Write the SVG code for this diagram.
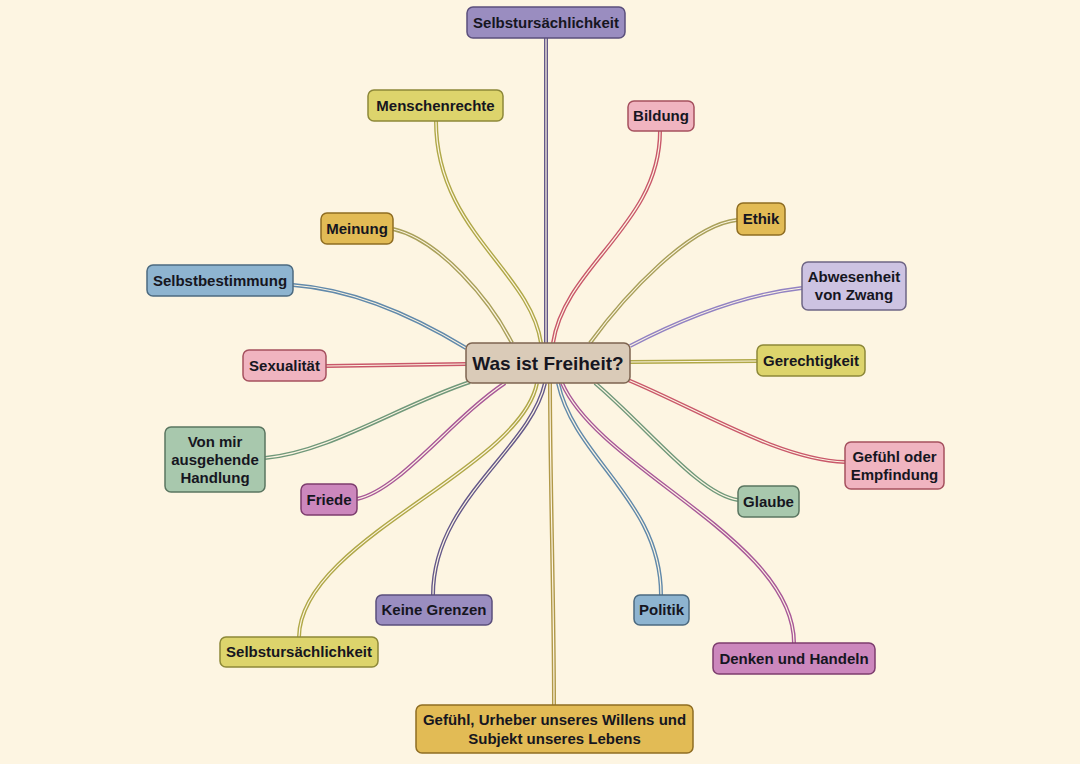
<svg xmlns="http://www.w3.org/2000/svg" width="1080" height="764" viewBox="0 0 1080 764">
<style>
text{font-family:"Liberation Sans",Arial,sans-serif;font-weight:bold;font-size:15px;fill:#16161f;text-anchor:middle}
.b{stroke-width:1.5}
.c path.o{fill:none;stroke-width:4}
.c path.i{fill:none;stroke:#fdf5e2;stroke-width:1.2}
.pu{fill:#9a8dc0;stroke:#5b4f7c}
.ye{fill:#ddd46c;stroke:#8d8838}
.pk{fill:#f0b4c0;stroke:#a5505e}
.or{fill:#e2bb55;stroke:#8f6d22}
.bl{fill:#8eb4d0;stroke:#4c6a80}
.la{fill:#cdc3e2;stroke:#6e6585}
.gr{fill:#a8c8ad;stroke:#5a7560}
.mg{fill:#cc87bd;stroke:#7d3d6e}
.ce{fill:#dacbb8;stroke:#7e6450}
</style>
<rect width="1080" height="764" fill="#fdf5e2"/>
<g class="c" id="connectors">
<path class="o" stroke="#645889" d="M546,38 L546,343"/><path class="i" d="M546,38 L546,343"/>
<path class="o" stroke="#b0a848" d="M436,121 C436,230 530,270 541,343"/><path class="i" d="M436,121 C436,230 530,270 541,343"/>
<path class="o" stroke="#c9586a" d="M660,131 C660,225 565,265 553,343"/><path class="i" d="M660,131 C660,225 565,265 553,343"/>
<path class="o" stroke="#a9a05a" d="M393,229 C440,240 490,300 512,343"/><path class="i" d="M393,229 C440,240 490,300 512,343"/>
<path class="o" stroke="#a9a05a" d="M737,220 C690,225 625,295 590,343"/><path class="i" d="M737,220 C690,225 625,295 590,343"/>
<path class="o" stroke="#6189aa" d="M293,285 C360,290 420,320 466,348"/><path class="i" d="M293,285 C360,290 420,320 466,348"/>
<path class="o" stroke="#9282c2" d="M802,288 C740,295 680,320 630,346"/><path class="i" d="M802,288 C740,295 680,320 630,346"/>
<path class="o" stroke="#c9586a" d="M326,366 L466,364"/><path class="i" d="M326,366 L466,364"/>
<path class="o" stroke="#b0a848" d="M757,361 L630,362"/><path class="i" d="M757,361 L630,362"/>
<path class="o" stroke="#70987a" d="M265,458 C330,452 400,405 470,382"/><path class="i" d="M265,458 C330,452 400,405 470,382"/>
<path class="o" stroke="#c9586a" d="M845,462 C780,460 700,410 628,380"/><path class="i" d="M845,462 C780,460 700,410 628,380"/>
<path class="o" stroke="#a85898" d="M357,499 C400,490 450,420 505,383"/><path class="i" d="M357,499 C400,490 450,420 505,383"/>
<path class="o" stroke="#70987a" d="M738,500 C700,495 650,430 595,383"/><path class="i" d="M738,500 C700,495 650,430 595,383"/>
<path class="o" stroke="#645889" d="M433,595 C433,500 530,450 545,383"/><path class="i" d="M433,595 C433,500 530,450 545,383"/>
<path class="o" stroke="#6189aa" d="M661,595 C661,500 575,460 558,383"/><path class="i" d="M661,595 C661,500 575,460 558,383"/>
<path class="o" stroke="#b0a848" d="M299,637 C300,540 520,470 537,383"/><path class="i" d="M299,637 C300,540 520,470 537,383"/>
<path class="o" stroke="#a85898" d="M794,643 C794,540 600,470 562,383"/><path class="i" d="M794,643 C794,540 600,470 562,383"/>
<path class="o" stroke="#b09848" d="M554,705 C554,600 550,480 550,383"/><path class="i" d="M554,705 C554,600 550,480 550,383"/>
</g>
<g id="center"><rect class="b ce" x="466" y="343" width="164" height="40" rx="6"/><text x="548" y="370" style="font-size:19px">Was ist Freiheit?</text></g>
<g id="n1"><rect class="b pu" x="467" y="7" width="158" height="31" rx="6"/><text x="546" y="28">Selbstursächlichkeit</text></g>
<g id="n2"><rect class="b ye" x="368" y="90" width="135" height="31" rx="6"/><text x="435.5" y="111">Menschenrechte</text></g>
<g id="n3"><rect class="b pk" x="628" y="101" width="66" height="30" rx="6"/><text x="661" y="121">Bildung</text></g>
<g id="n4"><rect class="b or" x="321" y="213" width="72" height="31" rx="6"/><text x="357" y="234">Meinung</text></g>
<g id="n5"><rect class="b or" x="737" y="203" width="48" height="32" rx="6"/><text x="761" y="224">Ethik</text></g>
<g id="n6"><rect class="b bl" x="147" y="265" width="146" height="31" rx="6"/><text x="220" y="286">Selbstbestimmung</text></g>
<g id="n7"><rect class="b la" x="802" y="262" width="104" height="48" rx="6"/><text x="854" y="282">Abwesenheit</text><text x="854" y="300">von Zwang</text></g>
<g id="n8"><rect class="b pk" x="243" y="350" width="83" height="31" rx="6"/><text x="284.5" y="371">Sexualität</text></g>
<g id="n9"><rect class="b ye" x="757" y="345" width="108" height="31" rx="6"/><text x="811" y="366">Gerechtigkeit</text></g>
<g id="n10"><rect class="b gr" x="165" y="427" width="100" height="65" rx="6"/><text x="215" y="447">Von mir</text><text x="215" y="465">ausgehende</text><text x="215" y="483">Handlung</text></g>
<g id="n11"><rect class="b pk" x="845" y="442" width="99" height="47" rx="6"/><text x="894.5" y="462">Gefühl oder</text><text x="894.5" y="480">Empfindung</text></g>
<g id="n12"><rect class="b mg" x="301" y="484" width="56" height="31" rx="6"/><text x="329" y="505">Friede</text></g>
<g id="n13"><rect class="b gr" x="738" y="486" width="61" height="31" rx="6"/><text x="768.5" y="507">Glaube</text></g>
<g id="n14"><rect class="b pu" x="376" y="595" width="116" height="30" rx="6"/><text x="434" y="615">Keine Grenzen</text></g>
<g id="n15"><rect class="b bl" x="634" y="595" width="55" height="30" rx="6"/><text x="661.5" y="615">Politik</text></g>
<g id="n16"><rect class="b ye" x="220" y="637" width="158" height="30" rx="6"/><text x="299" y="657">Selbstursächlichkeit</text></g>
<g id="n17"><rect class="b mg" x="713" y="643" width="162" height="31" rx="6"/><text x="794" y="664">Denken und Handeln</text></g>
<g id="n18"><rect class="b or" x="416" y="705" width="277" height="48" rx="6"/><text x="554.5" y="725">Gefühl, Urheber unseres Willens und</text><text x="554.5" y="744">Subjekt unseres Lebens</text></g>
</svg>
